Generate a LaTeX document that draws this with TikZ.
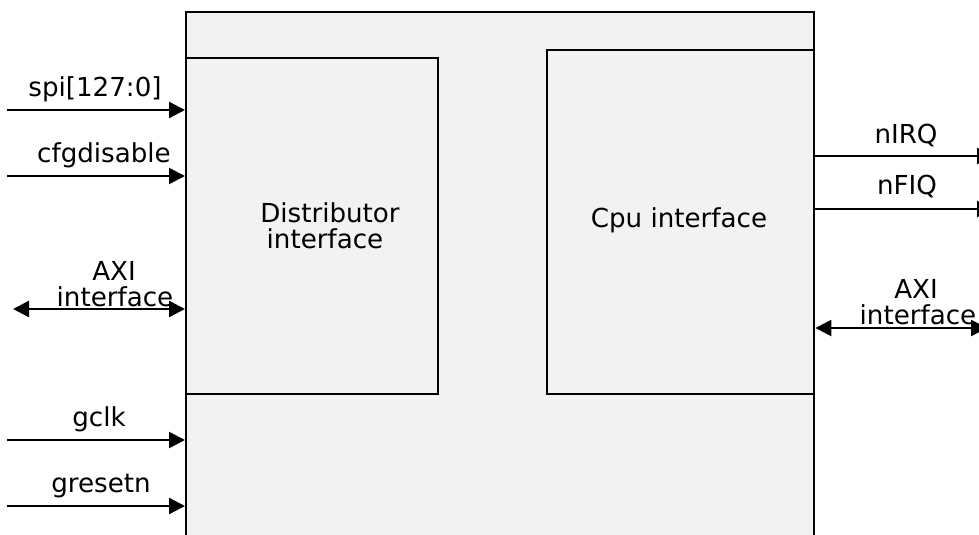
\documentclass[tikz,border=0pt]{standalone}
\usepackage{fontspec}
\setmainfont{DejaVu Sans}
\usetikzlibrary{arrows.meta}
\definecolor{boxgray}{HTML}{F2F2F2}
\begin{document}
\begin{tikzpicture}[x=0.75pt,y=-0.75pt,
  box/.style={draw=black, line width=1.8pt, fill=boxgray, inner sep=0pt, anchor=north west},
  sig/.style={line width=1.8pt, -{Triangle[length=12pt,width=12pt]}},
  dsig/.style={line width=1.8pt, {Triangle[length=12pt,width=12pt]}-{Triangle[length=12pt,width=12pt]}},
  lbl/.style={font=\fontsize{19.6}{19.5}\selectfont, inner sep=0pt, anchor=base}]
\useasboundingbox (0,0) rectangle (979,535);
\clip (0,0) rectangle (979,535);
\fill[white] (0,0) rectangle (979,535);

% blocks
\node[box, minimum width=471pt, minimum height=412pt] (gic) at (185,11) {};
\node[box, minimum width=189pt, minimum height=252pt] (dist) at (185,57) {};
\node[box, minimum width=200.25pt, minimum height=258pt] (cpu) at (546,49) {};

\node[lbl] (distA) at (330,222) {Distributor};
\node[lbl] (distB) at (325,248) {interface};
\node[lbl] (cpuT) at (679,227) {Cpu interface};

% left signals
\coordinate (spiS) at (7,110);
\coordinate (cfgS) at (7,176);
\coordinate (axiLS) at (13,309);
\coordinate (gclkS) at (7,440);
\coordinate (grstS) at (7,506);

\draw[sig] (spiS) -- (spiS -| gic.west);
\draw[sig] (cfgS) -- (cfgS -| gic.west);
\draw[dsig] (axiLS) -- (axiLS -| gic.west);
\draw[sig] (gclkS) -- (gclkS -| gic.west);
\draw[sig] (grstS) -- (grstS -| gic.west);

\node[lbl] (spiL) at (95,97) {spi[127:0]};
\node[lbl] (cfgL) at (104,162) {cfgdisable};
\node[lbl] (axiLA) at (114,280) {AXI};
\node[lbl] (axiLB) at (115,306.5) {interface};
\node[lbl] (gclkL) at (99,426) {gclk};
\node[lbl] (grstL) at (101,492) {gresetn};

% right signals
\coordinate (irqE) at (993,156);
\coordinate (fiqE) at (993,209);
\coordinate (axiRE) at (987,328);

\draw[sig] (irqE -| gic.east) -- (irqE);
\draw[sig] (fiqE -| gic.east) -- (fiqE);
\draw[dsig] (axiRE -| gic.east) -- (axiRE);

\node[lbl] (irqL) at (906,143) {nIRQ};
\node[lbl] (fiqL) at (907,194.5) {nFIQ};
\node[lbl] (axiRA) at (916,298) {AXI};
\node[lbl] (axiRB) at (918,324) {interface};
\end{tikzpicture}
\end{document}
